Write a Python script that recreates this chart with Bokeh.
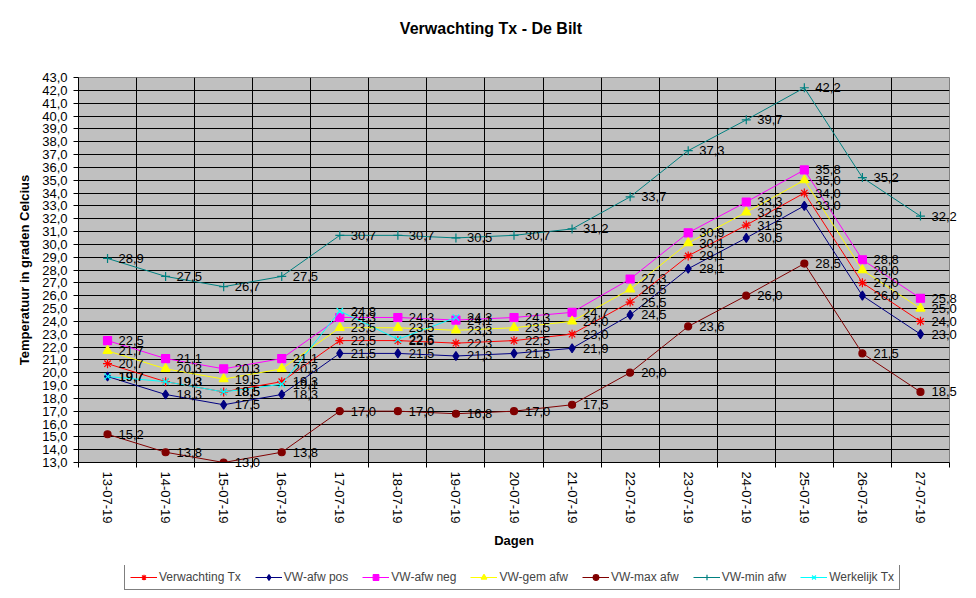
import math
from bokeh.plotting import figure
from bokeh.layouts import column
from bokeh.models import (Range1d, FixedTicker, SingleIntervalTicker, CustomJSTickFormatter,
                          Legend, LegendItem, ColumnDataSource)
from bokeh.core.properties import value
from bokeh.embed import file_html
from bokeh.resources import INLINE

title_text = "Verwachting Tx - De Bilt"
dates = ["13-07-19", "14-07-19", "15-07-19", "16-07-19", "17-07-19", "18-07-19", "19-07-19",
         "20-07-19", "21-07-19", "22-07-19", "23-07-19", "24-07-19", "25-07-19", "26-07-19", "27-07-19"]
verwachting = [20.7, 19.3, 18.5, 19.3, 22.5, 22.5, 22.3, 22.5, 23.0, 25.5, 29.1, 31.5, 34.0, 27.0, 24.0]
afw_pos = [19.7, 18.3, 17.5, 18.3, 21.5, 21.5, 21.3, 21.5, 21.9, 24.5, 28.1, 30.5, 33.0, 26.0, 23.0]
afw_neg = [22.5, 21.1, 20.3, 21.1, 24.3, 24.3, 24.1, 24.3, 24.7, 27.3, 30.9, 33.3, 35.8, 28.8, 25.8]
gem_afw = [21.7, 20.3, 19.5, 20.3, 23.5, 23.5, 23.3, 23.5, 24.0, 26.5, 30.1, 32.5, 35.0, 28.0, 25.0]
max_afw = [15.2, 13.8, 13.0, 13.8, 17.0, 17.0, 16.8, 17.0, 17.5, 20.0, 23.6, 26.0, 28.5, 21.5, 18.5]
min_afw = [28.9, 27.5, 26.7, 27.5, 30.7, 30.7, 30.5, 30.7, 31.2, 33.7, 37.3, 39.7, 42.2, 35.2, 32.2]
werkelijk = [19.7, 19.3, 18.5, 19.1, 24.8, 22.6, 24.3]

y_min, y_max = 13, 43

series = [
    ("Verwachting Tx", verwachting, "#FF0000", "asterisk", 9),
    ("VW-afw pos", afw_pos, "#000080", "diamond", 9),
    ("VW-afw neg", afw_neg, "#FF00FF", "square", 8),
    ("VW-gem afw", gem_afw, "#FFFF00", "triangle", 9),
    ("VW-max afw", max_afw, "#800000", "circle", 7),
    ("VW-min afw", min_afw, "#008080", "cross", 9),
    ("Werkelijk Tx", werkelijk, "#00FFFF", "x", 9),
]

n = len(dates)
p = figure(width=976, height=565, output_backend="svg", toolbar_location=None,
           x_range=Range1d(-0.5, n - 0.5), y_range=Range1d(y_min, y_max),
           min_border_left=78, min_border_right=27, min_border_top=77, min_border_bottom=103,
           background_fill_color="#C0C0C0", border_fill_color="white")
p.outline_line_color = "#808080"

centers = list(range(n))
bounds = [i - 0.5 for i in range(n + 1)]
p.xaxis.ticker = FixedTicker(ticks=centers, minor_ticks=bounds)
p.xaxis.major_label_overrides = {i: d for i, d in enumerate(dates)}
p.xaxis.major_label_orientation = -math.pi / 2
p.xaxis.major_tick_line_color = None
p.xaxis.major_tick_out = 5
p.xaxis.minor_tick_line_color = "black"
p.xaxis.minor_tick_out = 5
p.xaxis.minor_tick_in = 0
p.xaxis.major_label_standoff = 4
p.xaxis.axis_label = "Dagen"
p.xaxis.axis_label_standoff = 6
p.xgrid.grid_line_color = None
p.xgrid.minor_grid_line_color = "black"
p.xgrid.minor_grid_line_alpha = 1.0

p.yaxis.ticker = SingleIntervalTicker(interval=1, num_minor_ticks=0)
p.yaxis.formatter = CustomJSTickFormatter(code="return tick.toFixed(1).replace('.', ',');")
p.yaxis.major_tick_out = 5
p.yaxis.major_tick_in = 0
p.yaxis.minor_tick_line_color = None
p.yaxis.major_label_standoff = 6
p.yaxis.axis_label = "Temperatuur in graden Celcius"
p.yaxis.axis_label_standoff = 7
p.ygrid.grid_line_color = "black"
p.ygrid.grid_line_alpha = 1.0

for ax in (p.xaxis[0], p.yaxis[0]):
    ax.axis_line_color = "black"
    ax.major_label_text_font = "Liberation Sans"
    ax.major_label_text_font_size = "13px"
    ax.major_label_text_color = "black"
    ax.axis_label_text_font = "Liberation Sans"
    ax.axis_label_text_font_size = "13px"
    ax.axis_label_text_font_style = "bold"
    ax.axis_label_text_color = "black"

sources = []
for name, vals, color, marker, size in series:
    src = ColumnDataSource(dict(x=list(range(len(vals))), y=vals))
    sources.append(src)
    p.line("x", "y", source=src, line_color=color, line_width=1)
    p.scatter("x", "y", source=src, marker=marker, size=size,
              fill_color=color, line_color=color, line_width=1.2)

for name, vals, color, marker, size in series:
    src = ColumnDataSource(dict(x=list(range(len(vals))), y=vals,
                                lbl=[f"{v:.1f}".replace(".", ",") for v in vals]))
    p.text("x", "y", text="lbl", source=src, x_offset=11, text_baseline="middle",
           text_align="left", text_font=value("Liberation Sans"), text_font_size="13px",
           text_color="black", level="overlay")

# chart title, centred over the page, above the plot area
tsrc = ColumnDataSource(dict(x=[(n - 1) / 2], y=[y_max], t=[title_text]))
p.text("x", "y", text="t", source=tsrc, x_offset=-23, y_offset=-49,
       text_align="center", text_baseline="middle", text_font=value("Liberation Sans"),
       text_font_size="16px", text_font_style="bold", text_color="black", level="overlay")

# legend strip below the chart (its glyph proxies fall outside its own range)
lf = figure(width=976, height=33, output_backend="svg", toolbar_location=None,
            x_range=Range1d(100, 101), y_range=Range1d(100, 101),
            x_axis_location=None, y_axis_location=None,
            min_border_left=0, min_border_right=0, min_border_top=0, min_border_bottom=0,
            background_fill_color="white", border_fill_color="white")
lf.outline_line_color = None
lf.xgrid.grid_line_color = None
lf.ygrid.grid_line_color = None
items = []
for (name, vals, color, marker, size), src in zip(series, sources):
    ln = lf.line("x", "y", source=src, line_color=color, line_width=1)
    sc = lf.scatter("x", "y", source=src, marker=marker, size=size,
                    fill_color=color, line_color=color, line_width=1.2)
    items.append(LegendItem(label=name, renderers=[ln, sc]))
legend = Legend(items=items, orientation="horizontal", location=(46, 8),
                border_line_color="black", border_line_width=1,
                background_fill_color="white", background_fill_alpha=1.0,
                label_text_font="Liberation Sans", label_text_font_size="12px",
                glyph_width=27, glyph_height=14, label_standoff=2, spacing=14,
                padding=5, margin=0)
lf.add_layout(legend, "center")

open("out.html", "w").write(file_html(column(p, lf), INLINE))
